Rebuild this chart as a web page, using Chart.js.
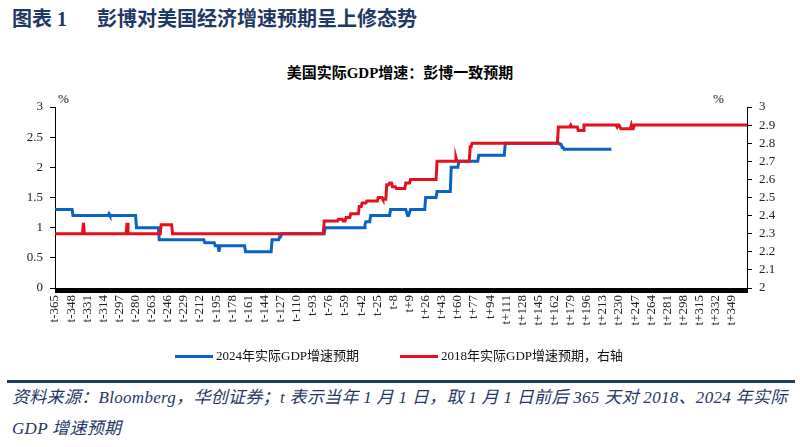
<!DOCTYPE html>
<html>
<head>
<meta charset="utf-8">
<script src="https://cdn.jsdelivr.net/npm/chart.js@4.4.1/dist/chart.umd.min.js"></script>
<style>
  html, body { margin: 0; padding: 0; background: #fff; }
  body { width: 800px; height: 447px; position: relative; overflow: hidden;
         font-family: "Liberation Serif", "Noto Sans CJK SC", serif; }
  .head { position: absolute; top: 3px; font-size: 20px; font-weight: bold;
          color: #1f3864; white-space: pre; }
  .ctitle { position: absolute; left: 0; width: 800px; top: 61px; text-align: center;
            font-size: 15px; font-weight: bold; color: #000; }
  .pct { position: absolute; top: 91px; font-size: 13px; color: #222; }
  #wrap { position: absolute; left: 0; top: 80px; width: 800px; height: 270px; }
  .legend { position: absolute; top: 345px; font-size: 13px; color: #111; white-space: nowrap; }
  .legend span.sw { display: inline-block; width: 38px; height: 3px; vertical-align: middle;
                    margin-right: 3px; position: relative; top: -1px; }
  .rule { position: absolute; left: 7px; width: 788px; top: 380px; height: 3px; background: #1f3864; }
  .src { position: absolute; left: 12px; top: 382px; width: 790px; font-size: 17px; font-style: italic;
         color: #1f3864; line-height: 31px; white-space: nowrap; letter-spacing: 0.3px; }
</style>
</head>
<body>
<div class="head" style="left:12px">图表 1</div>
<div class="head" style="left:97px">彭博对美国经济增速预期呈上修态势</div>
<div class="ctitle">美国实际GDP增速：彭博一致预期</div>
<div class="pct" style="left:58px">%</div>
<div class="pct" style="left:713px">%</div>
<div id="wrap"><canvas id="gdpChart"></canvas></div>
<div class="legend" style="left:175px"><span class="sw" style="background:#0a63c2"></span>2024年实际GDP增速预期</div>
<div class="legend" style="left:400px"><span class="sw" style="background:#e60f1e"></span>2018年实际GDP增速预期，右轴</div>
<div class="rule"></div>
<div class="src">资料来源：Bloomberg，华创证券；t 表示当年 1 月 1 日，取 1 月 1 日前后 365 天对 2018、2024 年实际<br>GDP 增速预期</div>
<script>
// 日期：t-365 ... t+365（t = 当年1月1日）
const dias = [];
for (let d = -365; d <= 365; d++) {
  dias.push(d === 0 ? 't' : (d < 0 ? `t${d}` : `t+${d}`));
}

// 2024年实际GDP增速预期（左轴），[值, 天数]
const runs2024 = [
  [1.3, 19], [1.2, 38], [1.23, 1], [1.2, 28], [1.0, 24], [0.8, 48],
  [0.75, 11], [0.7, 4], [0.6, 1], [0.7, 27], [0.6, 28], [0.8, 8],
  [0.85, 2], [0.9, 46], [1.0, 42], [1.05, 1], [1.1, 5], [1.2, 21],
  [1.3, 17], [1.25, 1], [1.2, 2], [1.25, 1], [1.3, 16], [1.5, 12],
  [1.6, 15], [2.0, 8], [2.1, 21], [2.2, 28], [2.4, 58], [2.38, 2],
  [2.33, 2], [2.3, 51], [null, 143]
];

// 2018年实际GDP增速预期（右轴），[值, 天数]
const runs2018 = [
  [2.3, 30], [2.36, 1], [2.3, 45], [2.36, 1], [2.3, 35], [2.35, 12],
  [2.3, 160], [2.37, 15], [2.38, 5], [2.37, 3], [2.39, 5], [2.41, 9],
  [2.45, 3], [2.47, 5], [2.48, 12], [2.5, 5], [2.49, 4], [2.57, 3],
  [2.58, 3], [2.56, 4], [2.55, 10], [2.58, 5], [2.6, 28], [2.7, 20],
  [2.72, 1], [2.7, 14], [2.78, 2], [2.8, 91], [2.89, 13], [2.9, 1],
  [2.89, 7], [2.87, 6], [2.9, 35], [2.89, 1], [2.9, 3], [2.88, 11],
  [2.9, 1], [2.88, 2], [2.9, 120]
];

const expandir = runs => runs.flatMap(([v, n]) => Array(n).fill(v));

const serie2024 = expandir(runs2024);
const serie2018 = expandir(runs2018);

const fonteEixo = { family: '"Liberation Serif", "Times New Roman", serif', size: 13 };

new Chart(document.getElementById('gdpChart'), {
  type: 'line',
  data: {
    labels: dias,
    datasets: [
      {
        label: '2024年实际GDP增速预期',
        data: serie2024,
        borderColor: '#0a63c2',
        borderWidth: 3,
        pointRadius: 0,
        yAxisID: 'y',
        order: 1
      },
      {
        label: '2018年实际GDP增速预期，右轴',
        data: serie2018,
        borderColor: '#e60f1e',
        borderWidth: 3,
        pointRadius: 0,
        yAxisID: 'y2',
        order: 0
      }
    ]
  },
  options: {
    responsive: true,
    maintainAspectRatio: false,
    animation: false,
    layout: { padding: { top: 27, left: 0, right: 0, bottom: 0 } },
    plugins: { legend: { display: false }, tooltip: { enabled: false } },
    scales: {
      x: {
        grid: { drawOnChartArea: false, color: '#000', tickLength: 5 },
        border: { color: '#000' },
        afterFit: (scale) => { scale.height = 62; },
        ticks: {
          autoSkip: false,
          maxRotation: 90,
          minRotation: 90,
          padding: 2,
          color: '#222',
          font: { family: fonteEixo.family, size: 13 },
          callback: (value, index) => (index % 17 === 0 ? dias[index] : '')
        }
      },
      y: {
        position: 'left',
        min: 0,
        max: 3,
        afterFit: (scale) => { scale.width = 55; },
        grid: { drawOnChartArea: false, color: '#000', tickLength: 5 },
        border: { color: '#000' },
        ticks: {
          stepSize: 0.5,
          autoSkip: false,
          color: '#222',
          padding: 7,
          font: fonteEixo,
          callback: (value) => String(Number(value.toFixed(1)))
        }
      },
      y2: {
        position: 'right',
        min: 2,
        max: 3,
        afterFit: (scale) => { scale.width = 53; },
        grid: { drawOnChartArea: false, color: '#000', tickLength: 5 },
        border: { color: '#000' },
        ticks: {
          stepSize: 0.1,
          autoSkip: false,
          color: '#222',
          padding: 7,
          font: fonteEixo,
          callback: (value) => String(Number(value.toFixed(1)))
        }
      }
    }
  }
});
</script>
</body>
</html>
